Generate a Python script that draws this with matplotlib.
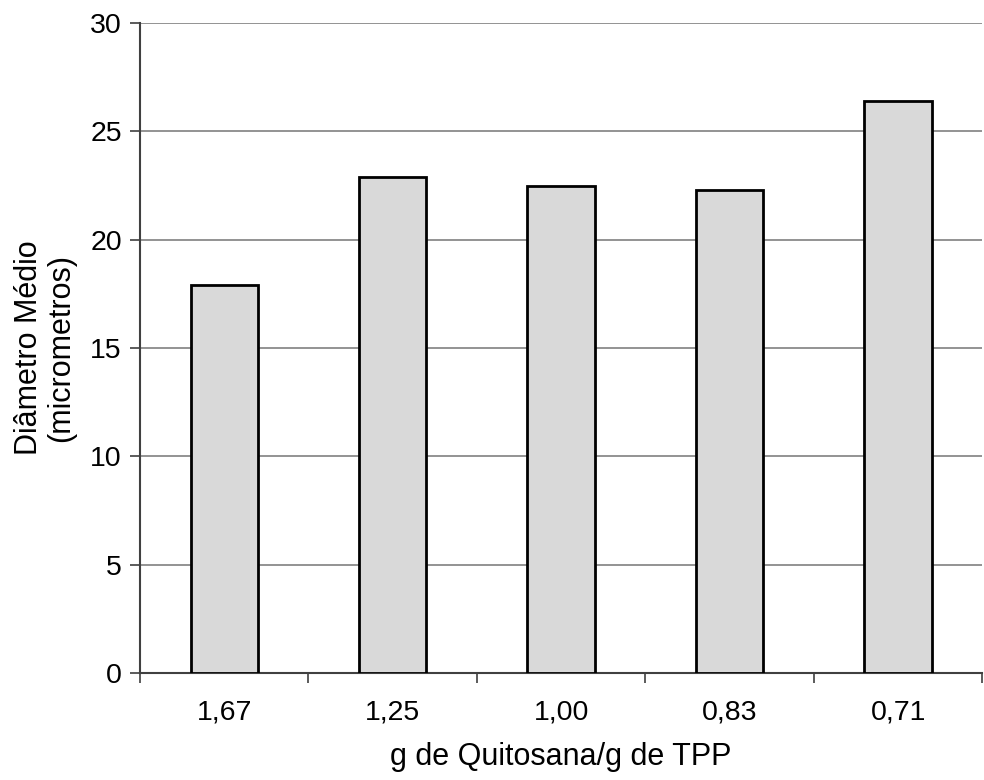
import numpy as np
import matplotlib.pyplot as plt
from matplotlib.ticker import FixedLocator

razoes = ["1,67", "1,25", "1,00", "0,83", "0,71"]
diametros = [17.9, 22.9, 22.5, 22.3, 26.4]

plt.rcParams['font.family'] = ['Liberation Sans', 'DejaVu Sans']

fig = plt.figure(figsize=(9.84, 7.8), dpi=100)
ax = fig.add_axes([0.1423, 0.1372, 0.856, 0.8333])

x = np.arange(len(razoes))
ax.bar(x, diametros, width=0.4, color='#d9d9d9', edgecolor='black', linewidth=2, zorder=3)

ax.set_xlim(-0.5, len(razoes) - 0.5)
ax.set_ylim(0, 30)
ax.set_yticks(np.arange(0, 31, 5))
ax.yaxis.grid(True, color='#808080', linewidth=1.2, zorder=0)

ax.set_xticks(x)
ax.set_xticklabels(razoes)
ax.xaxis.set_minor_locator(FixedLocator(np.arange(-0.5, len(razoes), 1)))
ax.tick_params(axis='x', which='major', length=0, pad=19, labelsize=20.5)
ax.tick_params(axis='x', which='minor', length=7, width=1.2, color='#404040')
ax.tick_params(axis='y', length=7, width=1.2, color='#404040', labelsize=20.5, pad=6)

for s in ['top', 'right']:
    ax.spines[s].set_visible(False)
ax.spines['left'].set_color('#404040')
ax.spines['left'].set_linewidth(1.5)
ax.spines['bottom'].set_color('#404040')
ax.spines['bottom'].set_linewidth(1.5)

ax.set_xlabel("g de Quitosana/g de TPP", fontsize=22, labelpad=12)
ax.set_ylabel("Diâmetro Médio\n(micrometros)", fontsize=22, labelpad=10, linespacing=1.1)

fig.savefig("out.png", dpi=100)
